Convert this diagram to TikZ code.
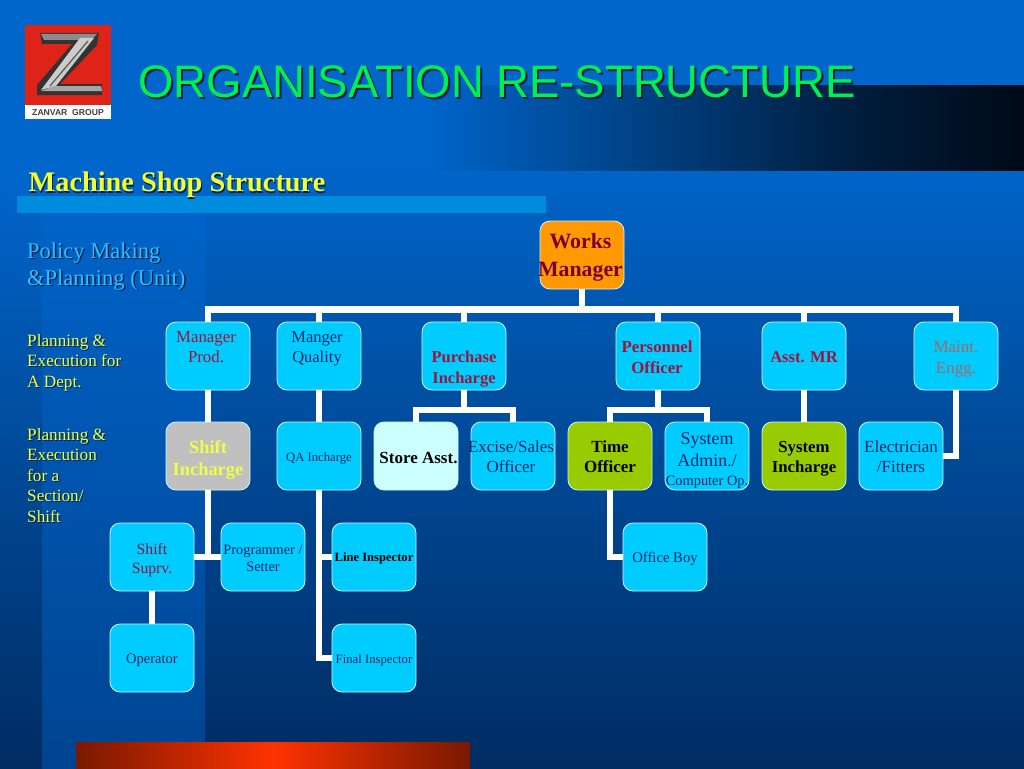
\documentclass[tikz,border=0pt]{standalone}
\usepackage{fontspec}
\setmainfont{Liberation Serif}
\newfontfamily\arialfont{Liberation Sans}
\definecolor{boxcyan}{HTML}{00CCFF}
\definecolor{darkred}{HTML}{A0143C}
\definecolor{navytext}{HTML}{002A66}
\definecolor{limeg}{HTML}{99CC00}
\definecolor{pale}{HTML}{CCFFFF}
\definecolor{orangeb}{HTML}{FF9900}
\definecolor{greyb}{HTML}{C0C0C0}
\definecolor{maroonw}{HTML}{7A0030}
\definecolor{titleg}{HTML}{00F050}
\definecolor{leftyel}{HTML}{EEFF44}
\definecolor{policyc}{HTML}{2CBEFF}
\definecolor{shadowc}{HTML}{00204A}
\newcommand{\boxtext}[3][0pt]{\kern#1\smash{\raisebox{\dimexpr#2-7pt\relax}{\begin{tabular}{@{}c@{}}#3\end{tabular}}}}
\tikzset{
 x=1pt,y=-1pt,
 box/.style={draw=white!80!boxcyan,line width=0.8pt,fill=boxcyan,rounded corners=10pt,minimum width=84pt,minimum height=68pt,inner sep=0pt,text=navytext},
 conn/.style={draw=white,line width=6.4pt},
 lefttext/.style={anchor=north west,align=left,inner sep=0pt,font=\fontsize{17.2}{20.5}\selectfont},
 policytext/.style={anchor=north west,align=left,inner sep=0pt,font=\fontsize{22.5}{27}\selectfont},
 titletext/.style={font=\arialfont\fontsize{45.5}{50}\selectfont,inner sep=0pt},
 subtext/.style={font=\bfseries\fontsize{28.3}{30}\selectfont,inner sep=0pt},
}
\begin{document}
\begin{tikzpicture}
\useasboundingbox (0,0) rectangle (1024,768);
% background panels
\fill[color={rgb,255:red,0;green,102;blue,204}] (0,0) rectangle (1024,171);
\fill[top color={rgb,255:red,0;green,100;blue,200},bottom color={rgb,255:red,0;green,44;blue,98}] (205,170) rectangle (1024,768);
\fill[top color={rgb,255:red,0;green,102;blue,204},bottom color={rgb,255:red,0;green,68;blue,145}] (42,170) rectangle (205,768);
\fill[top color={rgb,255:red,0;green,102;blue,204},bottom color={rgb,255:red,0;green,44;blue,98}] (0,170) rectangle (42,768);
\fill[left color={rgb,255:red,0;green,102;blue,204},right color={rgb,255:red,0;green,30;blue,62}] (420,85) rectangle (850,170);
\fill[left color={rgb,255:red,0;green,30;blue,62},right color={rgb,255:red,0;green,10;blue,22}] (849.5,85) rectangle (1024,170);
\fill[left color={rgb,255:red,120;green,25;blue,0},right color={rgb,255:red,120;green,25;blue,0},middle color={rgb,255:red,255;green,50;blue,0}] (76,742) rectangle (470,768);
\fill[color={rgb,255:red,0;green,140;blue,220}] (17,196) rectangle (546,213);
% logo
\fill[color={rgb,255:red,222;green,36;blue,24}] (25,25) rectangle (111,105);
\fill[white] (25,105) rectangle (111,119);
\node (logoname) at (68,112.5) [font=\arialfont\bfseries\fontsize{8.6}{9}\selectfont,text=black!75,inner sep=0pt] {ZANVAR\ \ GROUP};
\fill[color=black!80] (40,33) -- (99,33) -- (97,45) -- (60,84) -- (102,84) -- (102,95) -- (37,95) -- (37,85) -- (72,44) -- (42,44) -- cycle;
\fill[color=black!45] (41,34) -- (97,34) -- (91,40) -- (44,40) -- cycle;
\fill[color=black!20] (80,38) -- (94,38) -- (56,86) -- (41,90) -- cycle;
\draw[color=black!65,line width=1.2pt] (88,41) -- (50,86);
\fill[color=black!35] (54,86) -- (101,86) -- (102,91) -- (41,91) -- cycle;
% titles
\node[titletext,text=shadowc] at (499,84) {ORGANISATION RE-STRUCTURE};
\node[titletext,text=titleg] (title) at (497,82) {ORGANISATION RE-STRUCTURE};
\node[subtext,text=shadowc] at (178,186.5) {Machine Shop Structure};
\node[subtext,text=leftyel!70!yellow] (sub) at (177,185) {Machine Shop Structure};
\node[policytext,text=shadowc] at (28.5,244) {Policy Making\\\&Planning (Unit)};
\node[policytext,text=policyc] (policy) at (27,242.5) {Policy Making\\\&Planning (Unit)};
\node[lefttext,text=shadowc] at (28,335) {Planning \&\\Execution for\\A Dept.};
\node[lefttext,text=leftyel] (plana) at (27,334) {Planning \&\\Execution for\\A Dept.};
\node[lefttext,text=shadowc] at (28,429) {Planning \&\\Execution\\for a\\Section/\\Shift};
\node[lefttext,text=leftyel] (planb) at (27,428) {Planning \&\\Execution\\for a\\Section/\\Shift};
% connector junctions
\coordinate (bus) at (582,309.5);
\coordinate (pbus) at (464,410);
\coordinate (obus) at (658,410);
% boxes
\node[box,fill=orangeb,text=maroonw,font=\bfseries\fontsize{21.8}{28}\selectfont] (wm) at (582,255) {\boxtext[-3pt]{0pt}{Works\\Manager}};
\node[box,text=darkred,font=\fontsize{16.8}{20}\selectfont] (mp) at (208,356) {\boxtext[-4pt]{10.5pt}{Manager\\Prod.}};
\node[box,font=\fontsize{16.5}{20}\selectfont] (mq) at (319,356) {\boxtext[-4pt]{10.5pt}{Manger\\Quality}};
\node[box,text=darkred,font=\bfseries\fontsize{16.5}{21}\selectfont] (pi) at (464,356) {\boxtext{-10pt}{Purchase\\Incharge}};
\node[box,text=darkred,font=\bfseries\fontsize{16.8}{21}\selectfont] (po) at (658,356) {\boxtext[-2pt]{0pt}{Personnel\\Officer}};
\node[box,text=darkred,font=\bfseries\fontsize{16.5}{20}\selectfont] (am) at (804,356) {\boxtext{0pt}{Asst. MR}};
\node[box,text={rgb,255:red,175;green,100;blue,100},font=\fontsize{17}{20.5}\selectfont] (me) at (956,356) {\boxtext{0pt}{Maint.\\Engg.}};
\node[box,fill=greyb,text=leftyel,font=\bfseries\fontsize{18.4}{22}\selectfont] (si) at (208,456) {\boxtext{-1pt}{Shift\\Incharge}};
\node[box,font=\fontsize{12.7}{16}\selectfont] (qa) at (319,456) {\boxtext{2pt}{QA Incharge}};
\node[box,fill=pale,text=black,font=\bfseries\fontsize{17}{20}\selectfont] (sa) at (416,456) {\boxtext[5pt]{-1pt}{Store Asst.}};
\node[box,font=\fontsize{17}{20}\selectfont] (ex) at (513,456) {\boxtext[-4pt]{0pt}{Excise/Sales\\Officer}};
\node[box,fill=limeg,text=black,font=\bfseries\fontsize{17}{20}\selectfont] (to) at (610,456) {\boxtext{0pt}{Time\\Officer}};
\node[box,font=\fontsize{18}{22}\selectfont] (sy) at (707,456) {\boxtext{-2pt}{System\\Admin./\\[-3pt]{\fontsize{14.4}{16}\selectfont Computer Op.}}};
\node[box,fill=limeg,text=black,font=\bfseries\fontsize{16.8}{20}\selectfont] (sc) at (804,456) {\boxtext{0pt}{System\\Incharge}};
\node[box,font=\fontsize{17}{20}\selectfont] (el) at (901,456) {\boxtext{0pt}{Electrician\\/Fitters}};
\node[box,text=darkred!85!navytext,font=\fontsize{15.7}{19}\selectfont] (ss) at (152,557) {\boxtext{0pt}{Shift\\Suprv.}};
\node[box,font=\fontsize{14.3}{17.5}\selectfont] (pr) at (263,557) {\boxtext{1pt}{Programmer /\\Setter}};
\node[box,text=black,font=\bfseries\fontsize{12.6}{16}\selectfont] (li) at (374,557) {\boxtext{3pt}{Line Inspector}};
\node[box,font=\fontsize{14.7}{17}\selectfont] (ob) at (665,557) {\boxtext{1pt}{Office Boy}};
\node[box,font=\fontsize{14.5}{17}\selectfont] (op) at (152,658) {\boxtext{1pt}{Operator}};
\node[box,font=\fontsize{12.7}{16}\selectfont] (fi) at (374,658) {\boxtext{2pt}{Final Inspector}};
% connectors
\draw[conn] (wm.south) -- (bus);
\draw[conn] (mp.north) |- (bus);
\draw[conn] (mq.north) |- (bus);
\draw[conn] (pi.north) |- (bus);
\draw[conn] (po.north) |- (bus);
\draw[conn] (am.north) |- (bus);
\draw[conn] (me.north) |- (bus);
\draw[conn] (mp.south) -- (si.north);
\draw[conn] (mq.south) -- (qa.north);
\draw[conn] (am.south) -- (sc.north);
\draw[conn] (pi.south) -- (pbus);
\draw[conn] (sa.north) |- (pbus);
\draw[conn] (ex.north) |- (pbus);
\draw[conn] (po.south) -- (obus);
\draw[conn] (to.north) |- (obus);
\draw[conn] (sy.north) |- (obus);
\draw[conn] (me.south) |- (el.east);
\draw[conn] (si.south) |- (ss.east);
\draw[conn] (si.south) |- (pr.west);
\draw[conn] (ss.south) -- (op.north);
\draw[conn] (qa.south) |- (li.west);
\draw[conn] (qa.south) |- (fi.west);
\draw[conn] (to.south) |- (ob.west);
\end{tikzpicture}
\end{document}
